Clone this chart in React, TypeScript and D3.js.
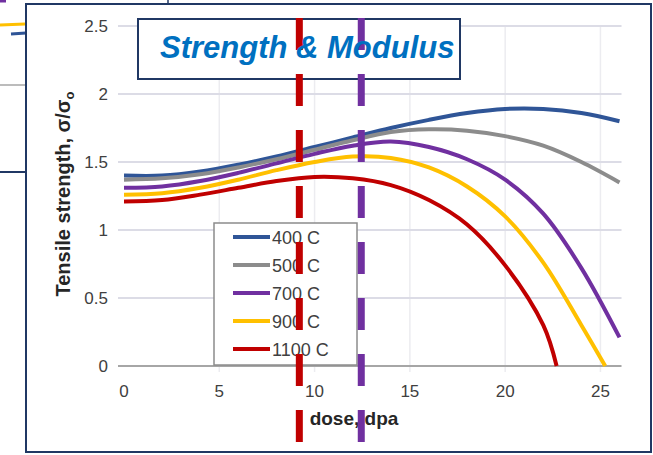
import { useRef, useEffect } from 'react';
import * as d3 from 'd3';

// dose (dpa) sample points
const doses = [0, 2, 4, 6, 8, 10, 12, 14, 16, 18, 20, 22, 24, 26];
const doses900 = [0, 2, 4, 6, 8, 10, 12, 14, 16, 18, 20, 22, 24, 25.25];
const doses1100 = [0, 2, 4, 6, 8, 10, 12, 14, 16, 18, 20, 22, 22.7];

const t400 = [1.40, 1.40, 1.43, 1.48, 1.54, 1.61, 1.68, 1.75, 1.81, 1.86, 1.89, 1.89, 1.86, 1.80];
const t500 = [1.37, 1.38, 1.41, 1.46, 1.52, 1.59, 1.66, 1.72, 1.74, 1.73, 1.69, 1.62, 1.50, 1.35];
const t700 = [1.31, 1.32, 1.36, 1.42, 1.49, 1.56, 1.62, 1.65, 1.61, 1.52, 1.37, 1.12, 0.72, 0.21];
const t900 = [1.26, 1.27, 1.31, 1.37, 1.44, 1.50, 1.54, 1.53, 1.46, 1.32, 1.10, 0.76, 0.30, 0];
const t1100 = [1.21, 1.22, 1.26, 1.31, 1.36, 1.39, 1.38, 1.33, 1.22, 1.04, 0.74, 0.30, 0];

const seriesNames = ['400 C', '500 C', '700 C', '900 C', '1100 C'];
const seriesColors = ['#2f5597', '#8c8c8c', '#7030a0', '#ffc000', '#c00000'];

const xTicks = [0, 5, 10, 15, 20, 25];
const yTicks = [0, 0.5, 1, 1.5, 2, 2.5];

// the two marked doses (dashed verticals)
const markDoses = [9.2, 12.45];
const markColors = ['#c00000', '#7030a0'];

const FONT = 'Liberation Sans, Arial, sans-serif';

export default function App() {
  const svgRef = useRef<SVGSVGElement>(null);

  useEffect(() => {
    const w = 653;
    const h = 455;
    const svg = d3.select(svgRef.current).attr('width', w).attr('height', h);
    svg.selectAll('*').remove();

    svg.append('rect').attr('width', w).attr('height', h).attr('fill', '#fff');

    // bits of the neighbouring slide content on the left
    const deco = svg.append('g');
    deco.append('line').attr('x1', 0).attr('x2', 6).attr('y1', 1).attr('y2', 1)
      .attr('stroke', '#7030a0').attr('stroke-width', 3);
    deco.append('line').attr('x1', 0).attr('x2', 25).attr('y1', 25).attr('y2', 24)
      .attr('stroke', '#ffc000').attr('stroke-width', 3);
    deco.append('line').attr('x1', 11).attr('x2', 26).attr('y1', 34).attr('y2', 33)
      .attr('stroke', '#2f5597').attr('stroke-width', 3);
    deco.append('line').attr('x1', 0).attr('x2', 26).attr('y1', 85).attr('y2', 85)
      .attr('stroke', '#a6a6a6').attr('stroke-width', 1.5);
    deco.append('line').attr('x1', 0).attr('x2', 26).attr('y1', 172).attr('y2', 172)
      .attr('stroke', '#203864').attr('stroke-width', 2);
    deco.append('line').attr('x1', 168).attr('x2', 168).attr('y1', 0).attr('y2', 5)
      .attr('stroke', '#203864').attr('stroke-width', 1.5);

    // main frame
    svg.append('rect').attr('x', 26).attr('y', 4).attr('width', 625).attr('height', 448)
      .attr('fill', '#fff').attr('stroke', '#203864').attr('stroke-width', 2);

    // scales
    const xScale = d3.scaleLinear().domain([0, 26]).range([124, 619.5]);
    const yScale = d3.scaleLinear().domain([0, 2.5]).range([366, 26]);

    // grid
    svg.append('g').selectAll('line').data(xTicks.filter((d) => d > 0)).enter().append('line')
      .attr('x1', (d) => xScale(d)).attr('x2', (d) => xScale(d))
      .attr('y1', yScale(2.5)).attr('y2', yScale(0) + 6)
      .attr('stroke', '#ececf0').attr('stroke-width', 1.5);
    svg.append('g').selectAll('line').data(yTicks.filter((d) => d > 0)).enter().append('line')
      .attr('x1', 118).attr('x2', xScale(26) + 2)
      .attr('y1', (d) => yScale(d)).attr('y2', (d) => yScale(d))
      .attr('stroke', '#dcdce6').attr('stroke-width', 2);
    svg.append('line').attr('x1', 118).attr('x2', xScale(26) + 2)
      .attr('y1', yScale(0)).attr('y2', yScale(0))
      .attr('stroke', '#a6a6a6').attr('stroke-width', 2);

    // tick labels
    svg.append('g').selectAll('text').data(yTicks).enter().append('text')
      .attr('x', 108).attr('y', (d) => yScale(d) + 6)
      .attr('text-anchor', 'end').attr('font-family', FONT).attr('font-size', 17)
      .attr('fill', '#404040').text((d) => String(d));
    svg.append('g').selectAll('text').data(xTicks).enter().append('text')
      .attr('x', (d) => xScale(d)).attr('y', 397)
      .attr('text-anchor', 'middle').attr('font-family', FONT).attr('font-size', 17)
      .attr('fill', '#404040').text((d) => String(d));

    // axis titles
    svg.append('text').attr('x', 354).attr('y', 425).attr('text-anchor', 'middle')
      .attr('font-family', FONT).attr('font-size', 19).attr('font-weight', 'bold')
      .attr('fill', '#262626').text('dose, dpa');
    const yt = svg.append('text').attr('transform', 'translate(70,194) rotate(-90)')
      .attr('text-anchor', 'middle').attr('font-family', FONT).attr('font-size', 20)
      .attr('font-weight', 'bold').attr('fill', '#262626');
    yt.append('tspan').text('Tensile strength, σ/σ');
    yt.append('tspan').attr('font-size', 13).attr('dy', 4).text('o');

    // curves
    const allSeries = [
      doses.map((d, i) => [d, t400[i]]),
      doses.map((d, i) => [d, t500[i]]),
      doses.map((d, i) => [d, t700[i]]),
      doses900.map((d, i) => [d, t900[i]]),
      doses1100.map((d, i) => [d, t1100[i]]),
    ];
    const line = d3.line<number[]>()
      .x((d) => xScale(d[0]))
      .y((d) => yScale(d[1]))
      .curve(d3.curveCatmullRom.alpha(0.5));
    svg.append('g').selectAll('path').data(allSeries).enter().append('path')
      .attr('d', (d) => line(d))
      .attr('fill', 'none')
      .attr('stroke', (d, i) => seriesColors[i])
      .attr('stroke-width', 4);

    // legend
    const lg = svg.append('g');
    lg.append('rect').attr('x', 214).attr('y', 223).attr('width', 143).attr('height', 142)
      .attr('fill', '#fff').attr('stroke', '#8c8c8c').attr('stroke-width', 1.5);
    seriesNames.forEach((name, i) => {
      const cy = 237 + i * 28;
      lg.append('line').attr('x1', 233).attr('x2', 270).attr('y1', cy).attr('y2', cy)
        .attr('stroke', seriesColors[i]).attr('stroke-width', 4);
      lg.append('text').attr('x', 272).attr('y', cy + 6.5)
        .attr('font-family', FONT).attr('font-size', 18).attr('fill', '#404040').text(name);
    });

    // title box
    svg.append('rect').attr('x', 138).attr('y', 19).attr('width', 322).attr('height', 60)
      .attr('fill', '#fff').attr('stroke', '#203864').attr('stroke-width', 2);

    // dashed marker lines
    svg.append('g').selectAll('line').data(markDoses).enter().append('line')
      .attr('x1', (d) => xScale(d)).attr('x2', (d) => xScale(d))
      .attr('y1', 18).attr('y2', 442)
      .attr('stroke', (d, i) => markColors[i]).attr('stroke-width', 7)
      .attr('stroke-dasharray', '32 24');

    svg.append('text').attr('x', 160).attr('y', 58)
      .attr('font-family', FONT).attr('font-size', 31).attr('font-weight', 'bold')
      .attr('font-style', 'italic').attr('fill', '#0070c0').text('Strength & Modulus');
  }, []);

  return <svg ref={svgRef} style={{ position: 'absolute', left: 0, top: 0 }}></svg>;
}
